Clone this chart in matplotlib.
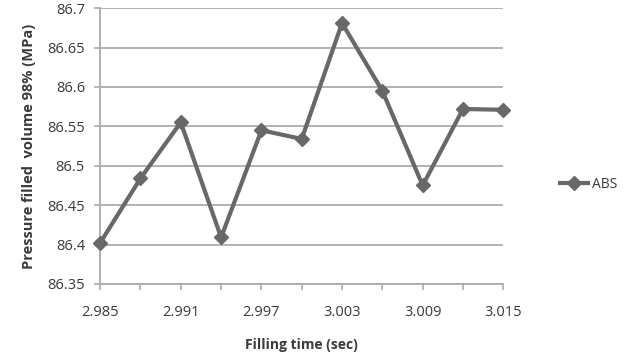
import numpy as np
import matplotlib
matplotlib.use('Agg')
import matplotlib.pyplot as plt
from matplotlib.ticker import MultipleLocator

# data
filling_time = [2.985, 2.988, 2.991, 2.994, 2.997, 3.000, 3.003, 3.006, 3.009, 3.012, 3.015]
pressure_abs = [86.402, 86.484, 86.555, 86.409, 86.545, 86.534, 86.681, 86.595, 86.475, 86.572, 86.571]
x_ticks = [2.985, 2.991, 2.997, 3.003, 3.009, 3.015]
x_labels = ['2.985', '2.991', '2.997', '3.003', '3.009', '3.015']
y_ticks = [86.35, 86.4, 86.45, 86.5, 86.55, 86.6, 86.65, 86.7]
y_labels = ['86.35', '86.4', '86.45', '86.5', '86.55', '86.6', '86.65', '86.7']

plt.rcParams['font.family'] = ['Open Sans', 'DejaVu Sans']
line_col = '#686868'
grid_col = '#ababab'
text_col = '#3a3a3a'

fig = plt.figure(figsize=(6.26, 3.54), dpi=100)
ax = fig.add_axes([0.16, 0.198, 0.644, 0.779])

ax.plot(filling_time, pressure_abs, color=line_col, lw=3.0, marker='D',
        markersize=7.5, markerfacecolor=line_col, markeredgecolor=line_col,
        label='ABS', zorder=3, clip_on=False)

ax.set_xlim(2.985, 3.015)
ax.set_ylim(86.35, 86.7)
ax.set_xticks(x_ticks)
ax.set_xticklabels(x_labels)
ax.xaxis.set_minor_locator(MultipleLocator(0.003))
ax.set_yticks(y_ticks)
ax.set_yticklabels(y_labels)

ax.grid(axis='y', color=grid_col, lw=1.3, zorder=0)
for s in ['top', 'right']:
    ax.spines[s].set_visible(False)
for s in ['left', 'bottom']:
    ax.spines[s].set_color(grid_col)
    ax.spines[s].set_linewidth(1.3)

ax.tick_params(axis='both', which='both', colors=grid_col, labelcolor=text_col,
               labelsize=10.5, length=4, width=1.2, direction='out')
ax.tick_params(axis='x', pad=11)
ax.tick_params(axis='y', pad=7)

ax.set_xlabel('Filling time (sec)', fontsize=10, fontweight='bold', color=text_col, labelpad=13)
ax.set_ylabel('Pressure filled  volume 98% (MPa)', fontsize=10.5, fontweight='bold', color=text_col, labelpad=8)

fig.legend(loc='center left', bbox_to_anchor=(0.875, 0.478), frameon=False,
           fontsize=10, handlelength=2.0, handletextpad=0.25, labelcolor=text_col)

fig.savefig('out.png', dpi=100)
